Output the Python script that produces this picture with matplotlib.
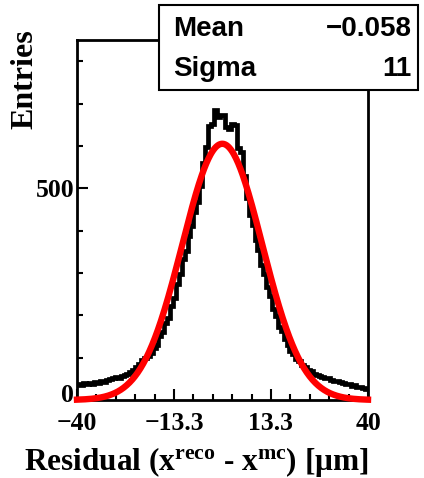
import matplotlib
matplotlib.use("Agg")
import matplotlib.pyplot as plt
import matplotlib.transforms as mtransforms
from matplotlib.patches import Rectangle
from matplotlib.ticker import FixedLocator, AutoMinorLocator, MultipleLocator
import numpy as np

plt.rcParams['mathtext.fontset'] = 'custom'
plt.rcParams['mathtext.rm'] = 'Liberation Serif:bold'
plt.rcParams['mathtext.bf'] = 'Liberation Serif:bold'
plt.rcParams['mathtext.it'] = 'Liberation Serif:bold:italic'

# residual histogram, 100 bins from -40 to 40 um
x_min, x_max = -40.0, 40.0
counts = [38, 35, 39, 37, 41, 38, 42, 41, 44, 43,
          47, 49, 51, 54, 53, 57, 59, 62, 66, 72,
          79, 86, 94, 99, 105, 112, 122, 131, 150, 160,
          181, 194, 222, 241, 275, 298, 333, 352, 387, 410,
          443, 468, 505, 560, 598, 648, 652, 684, 668, 672,
          672, 645, 640, 652, 650, 596, 585, 530, 478, 437,
          413, 377, 355, 319, 298, 266, 245, 215, 198, 173,
          162, 143, 130, 116, 108, 96, 91, 83, 79, 71,
          68, 62, 60, 57, 55, 52, 51, 48, 46, 45,
          42, 41, 38, 37, 34, 35, 31, 30, 28, 26]

# gaussian fit result
fit_const = 605.0
fit_mean = -0.058
fit_sigma = 11.0

x_ticklabels = ['\u221240', '\u221213.3', '13.3', '40']
y_ticks = [0, 500]

edges = np.linspace(x_min, x_max, len(counts) + 1)
xf = np.linspace(x_min, x_max, 400)
yf = fit_const * np.exp(-0.5 * ((xf - fit_mean) / fit_sigma) ** 2)

fig = plt.figure(figsize=(4.24, 4.78), dpi=100)
ax = fig.add_axes([77 / 424, 1 - 400 / 478, 291 / 424, 360 / 478])

ax.stairs(counts, edges, baseline=None, color='black', linewidth=3.4)
ax.plot(xf, yf, color='#ff0000', linewidth=4.6, clip_on=False, zorder=5)

ax.set_xlim(x_min, x_max)
ax.set_ylim(0, 850)

ax.xaxis.set_major_locator(FixedLocator([-40, -40 + 80 / 3, 40 - 80 / 3, 40]))
ax.xaxis.set_minor_locator(AutoMinorLocator(5))
ax.set_xticklabels(x_ticklabels)
ax.yaxis.set_major_locator(FixedLocator(y_ticks))
ax.yaxis.set_minor_locator(MultipleLocator(100))

ax.tick_params(which='both', direction='in', top=False, right=False, width=1.5)
ax.tick_params(which='major', length=8)
ax.tick_params(which='minor', length=4)
ax.tick_params(axis='x', pad=9)
ax.tick_params(axis='y', pad=2)
for lab in ax.get_xticklabels() + ax.get_yticklabels():
    lab.set_fontfamily('Liberation Serif')
    lab.set_fontweight('bold')
    lab.set_fontsize(18.5)
for sp in ax.spines.values():
    sp.set_linewidth(2.0)

# nudge the "0" label up a little so it clears the "-40" below it
fig.canvas.draw()
zero_tick = ax.yaxis.get_major_ticks()[0]
zero_tick.label1.set_transform(zero_tick.label1.get_transform()
                               + mtransforms.ScaledTranslation(0, 5 / 72, fig.dpi_scale_trans))

ax.set_xlabel('Residual (x$^{\\rm reco}$ - x$^{\\rm mc}$) [\u03bcm]', loc='right',
              fontfamily='Liberation Serif', fontweight='bold', fontsize=22.5)
ax.xaxis.set_label_coords(1.0, -0.125)
ax.set_ylabel('Entries', loc='top', fontfamily='Liberation Serif',
              fontweight='bold', fontsize=23)
ax.yaxis.set_label_coords(-0.13, 1.03)

# stats box
bx0, bx1 = 159 / 424, 418 / 424
by0, by1 = 1 - 90 / 478, 1 - 5 / 478
fig.add_artist(Rectangle((bx0, by0), bx1 - bx0, by1 - by0, transform=fig.transFigure,
                         facecolor='white', edgecolor='black', linewidth=1.5, zorder=10))
stat_font = dict(fontfamily='Liberation Sans', fontweight='bold', fontsize=20, zorder=11)
fig.text(173 / 424, 1 - 36 / 478, 'Mean', ha='left', va='baseline', **stat_font)
fig.text(412 / 424, 1 - 36 / 478, '\u22120.058', ha='right', va='baseline', **stat_font)
fig.text(173 / 424, 1 - 76 / 478, 'Sigma', ha='left', va='baseline', **stat_font)
fig.text(412 / 424, 1 - 76 / 478, '11', ha='right', va='baseline', **stat_font)

fig.savefig('out.png', dpi=100)
